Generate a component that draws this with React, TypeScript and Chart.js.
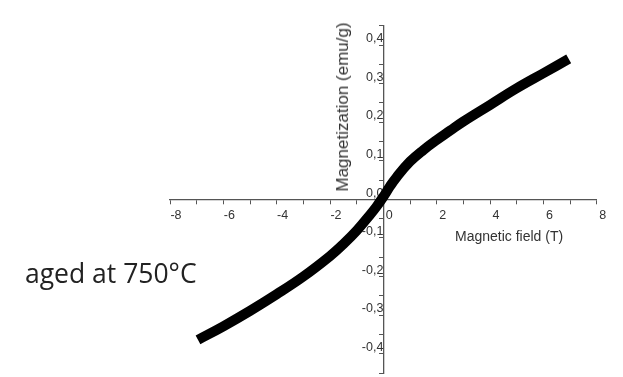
import React, { useEffect, useRef } from 'react';
import { Chart, registerables } from 'chart.js';

Chart.register(...registerables);

// Magnetic field (T)
const fieldT = [-6.95, -6, -5, -4, -3, -2, -1.5, -1, -0.5, -0.25, 0, 0.25, 0.5, 1, 1.5, 2, 2.5, 3, 4, 5, 6, 6.95];
// Magnetization (emu/g)
const magnetization = [-0.364, -0.329, -0.289, -0.246, -0.2, -0.147, -0.116, -0.081, -0.04, -0.018, 0.007, 0.034, 0.058, 0.098, 0.128, 0.154, 0.178, 0.202, 0.245, 0.288, 0.327, 0.364];

const xMin = -8;
const xMax = 8;
const yMin = -0.45;
const yMax = 0.45;
const xStep = 1;
const yStep = 0.05;

const xTitle = 'Magnetic field (T)';
const yTitle = 'Magnetization (emu/g)';
const note = 'aged at 750°C';

const xTickLabel = (v: number) => {
  const r = Math.round(v);
  return r % 2 === 0 ? String(r) : '';
};
const yTickLabel = (v: number) => {
  const r = Math.round(v * 100);
  if (r % 10 !== 0) return '';
  return (r / 100).toFixed(1).replace('.', ',');
};

const noSpace = (s: any, horizontal: boolean) => {
  if (horizontal) s.height = 0;
  else s.width = 0;
  s.paddingLeft = 0;
  s.paddingRight = 0;
  s.paddingTop = 0;
  s.paddingBottom = 0;
};

export default function App() {
  const ref = useRef<HTMLCanvasElement>(null);
  useEffect(() => {
    if (!ref.current) return;
    const tickFont = { family: 'Liberation Sans, Arial, sans-serif', size: 12.5 };
    const chart = new Chart(ref.current, {
      type: 'line',
      data: {
        datasets: [
          {
            data: fieldT.map((x, i) => ({ x, y: magnetization[i] })),
            borderColor: '#000',
            borderWidth: 10,
            pointRadius: 0,
            tension: 0.4,
            fill: false,
          },
        ],
      },
      options: {
        animation: false,
        responsive: false,
        events: [],
        layout: { padding: { left: 170, right: 26.3, top: 25.8, bottom: 4 } },
        plugins: { legend: { display: false }, tooltip: { enabled: false } },
        scales: {
          x: {
            type: 'linear',
            min: xMin,
            max: xMax,
            position: { y: 0 },
            grid: { drawOnChartArea: false, tickLength: 4, color: '#555', lineWidth: 1 },
            border: { color: '#555', width: 1.3 },
            ticks: {
              stepSize: xStep,
              autoSkip: false,
              maxRotation: 0,
              padding: 5,
              labelOffset: 6,
              font: tickFont,
              color: '#333',
              callback: (v: any) => xTickLabel(Number(v)),
            },
            afterFit: (s: any) => noSpace(s, true),
          },
          y: {
            type: 'linear',
            min: yMin,
            max: yMax,
            position: { x: 0 },
            grid: { drawOnChartArea: false, tickLength: 4, color: '#555', lineWidth: 1 },
            border: { color: '#555', width: 1.3 },
            ticks: {
              stepSize: yStep,
              autoSkip: false,
              align: 'end',
              font: tickFont,
              color: '#333',
              callback: (v: any) => yTickLabel(Number(v)),
            },
            afterFit: (s: any) => noSpace(s, false),
          },
        },
      },
    } as any);
    return () => chart.destroy();
  }, []);

  return (
    <div style={{ position: 'fixed', left: 0, top: 0, width: 623, height: 377, background: '#fff', overflow: 'hidden' }}>
      <canvas ref={ref} width={623} height={377} style={{ width: 623, height: 377, display: 'block' }} />
      <div
        style={{
          position: 'absolute',
          left: 343,
          top: 107,
          transform: 'translate(-50%, -50%) rotate(-90deg)',
          whiteSpace: 'nowrap',
          font: '17px "Liberation Sans", Arial, sans-serif',
          lineHeight: '20px',
          color: '#333',
        }}
      >
        {yTitle}
      </div>
      <div
        style={{
          position: 'absolute',
          left: 455,
          top: 228,
          whiteSpace: 'nowrap',
          font: '14px "Liberation Sans", Arial, sans-serif',
          lineHeight: '16px',
          color: '#333',
        }}
      >
        {xTitle}
      </div>
      <div
        style={{
          position: 'absolute',
          left: 25,
          top: 258,
          whiteSpace: 'nowrap',
          font: '26.5px "Open Sans", sans-serif',
          lineHeight: '30px',
          color: '#222',
        }}
      >
        {note}
      </div>
    </div>
  );
}
